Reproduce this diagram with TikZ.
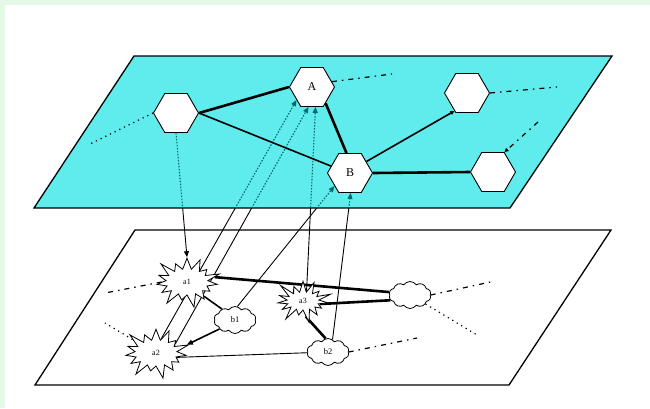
\documentclass[tikz,border=0pt]{standalone}
\usepackage{fontspec}
\setmainfont{Liberation Serif}
\usetikzlibrary{shapes.geometric,shapes.symbols,arrows.meta,calc}
\pgfdeclarelayer{paper}
\pgfdeclarelayer{planeback}
\pgfdeclarelayer{links}
\pgfdeclarelayer{plane}
\pgfdeclarelayer{seethrough}
\pgfsetlayers{paper,planeback,links,plane,seethrough,main}

\definecolor{planecyan}{RGB}{96,236,236}
\definecolor{hidden}{RGB}{0,105,105}
\definecolor{haze}{RGB}{228,248,230}

\tikzset{
  hexnode/.style={regular polygon, regular polygon sides=6, minimum size=45pt,
    inner sep=0pt, draw, line width=0.9pt, fill=white,
    font=\fontsize{12}{12}\selectfont},
  burst/.style={starburst, starburst points=15, starburst point height=15pt,
    minimum width=72pt, minimum height=56pt, inner sep=0pt, draw,
    line width=0.8pt, fill=white, font=\fontsize{8}{8}\selectfont},
  puff/.style={cloud, cloud puffs=10, cloud puff arc=110, aspect=1.6,
    minimum width=42pt, minimum height=27pt, inner sep=0pt, draw,
    line width=0.8pt, fill=white, font=\fontsize{8.5}{8.5}\selectfont},
  heavy/.style={line width=2.6pt},
  medium/.style={line width=1.6pt},
  light/.style={line width=0.9pt},
  dashdot/.style={line width=1.2pt, dash pattern=on 5pt off 5pt on 1.5pt off 5pt},
  dots/.style={line width=1.2pt, dash pattern=on 1.2pt off 4pt},
  tip/.style={-{Triangle[length=6pt,width=5pt]}},
  smalltip/.style={-{Triangle[length=4pt,width=4pt]}},
  planeedge/.style={line width=1.3pt},
  seen/.style={line width=0.9pt},
  behind/.style={line width=1.1pt, hidden, dash pattern=on 1.5pt off 1.5pt},
}

\begin{document}
\begin{tikzpicture}[x=1pt,y=-1pt]
\useasboundingbox (0,0) rectangle (650,408);
\begin{pgfonlayer}{paper}
  \fill[white] (0,0) rectangle (650,408);
  \fill[haze] (0,0) rectangle (650,5);
  \fill[haze] (0,0) rectangle (5,408);
\end{pgfonlayer}

% ---- upper layer nodes
\node[hexnode] (h1) at (176,113) {};
\node[hexnode] (A)  at (312,87)  {A};
\node[hexnode] (B)  at (350,173) {B};
\node[hexnode] (h3) at (467,93)  {};
\node[hexnode] (h4) at (493,172) {};

% ---- lower layer nodes
\node[burst] (a1) at (187,282) {a1};
\node[burst] (a2) at (156,353) {a2};
\node[burst, minimum width=62pt, minimum height=48pt] (a3) at (303,301) {a3};
\node[puff]  (b1) at (235,320) {b1};
\node[puff]  (b2) at (328,352) {b2};
\node[puff]  (b3) at (410,295) {};

% ---- loose ends
\coordinate (hA) at (392,74);
\coordinate (h3r) at (557,87);
\coordinate (h4u) at (538,122);
\coordinate (h1l) at (88,145);
\coordinate (a1l) at (105,293);
\coordinate (a2l) at (105,323);
\coordinate (b3r) at (495,281);
\coordinate (b3d) at (477,335);
\coordinate (b2r) at (417,338);

% ---- planes
\begin{pgfonlayer}{planeback}
  \filldraw[fill=white, planeedge] (135,230) -- (611,230) -- (509,385) -- (35,385) -- cycle;
\end{pgfonlayer}
\begin{pgfonlayer}{plane}
  \filldraw[fill=planecyan, planeedge] (134,56) -- (612,56) -- (510,208) -- (34,208) -- cycle;
\end{pgfonlayer}

% ---- links between the two layers: solid below, seen through the upper plane
\begin{pgfonlayer}{links}
  \draw[seen, tip] (h1.south) -- (a1.north);
  \draw[seen, tip] (a2.70) -- (A.-140);
  \draw[seen, tip] (a2.25) -- (A.-100);
  \draw[seen, tip] (a3.70) -- (A.-80);
  \draw[seen, tip] (b1.80) -- (B.-140);
  \draw[seen, tip] (b2.70) -- (B.-88);
\end{pgfonlayer}
\begin{pgfonlayer}{seethrough}
  \begin{scope}
    \clip (134,56) -- (612,56) -- (510,208) -- (34,208) -- cycle;
    \draw[behind, tip] (h1.south) -- (a1.north);
    \draw[behind, tip] (a2.70) -- (A.-140);
    \draw[behind, tip] (a2.25) -- (A.-100);
    \draw[behind, tip] (a3.70) -- (A.-80);
    \draw[behind, tip] (b1.80) -- (B.-140);
    \draw[behind, tip] (b2.70) -- (B.-88);
  \end{scope}
  % upper layer links
  \draw[heavy] (h1.east) -- (A.west);
  \draw[medium] (h1.east) -- (B.160);
  \draw[heavy] (A.-50) -- (B.100);
  \draw[medium, smalltip] (B.35) -- (h3.-125);
  \draw[heavy] (B.east) -- (h4.west);
  \draw[dashdot] (A.15) -- (hA);
  \draw[dashdot] (h3.east) -- (h3r);
  \draw[dashdot, smalltip] (h4u) -- (h4.60);
  \draw[dots] (h1.west) -- (h1l);
\end{pgfonlayer}

% ---- lower layer links
\begin{pgfonlayer}{links}
  \draw[heavy] (a1.10) -- (b3.172);
  \draw[heavy] (a3.-10) -- (b3.-165);
  \draw[medium] (a1.-40) -- (b1.140);
  \draw[medium, tip] (b1.-150) -- (a2.15);
  \draw[light] (a2.-12) -- (b2.182);
  \draw[heavy] (a3.-80) -- (b2.100);
  \draw[dashdot] (a1.west) -- (a1l);
  \draw[dots] (a2.150) -- (a2l);
  \draw[dashdot] (b3.east) -- (b3r);
  \draw[dots] (b3.-30) -- (b3d);
  \draw[dashdot] (b2.east) -- (b2r);
\end{pgfonlayer}
\end{tikzpicture}
\end{document}
